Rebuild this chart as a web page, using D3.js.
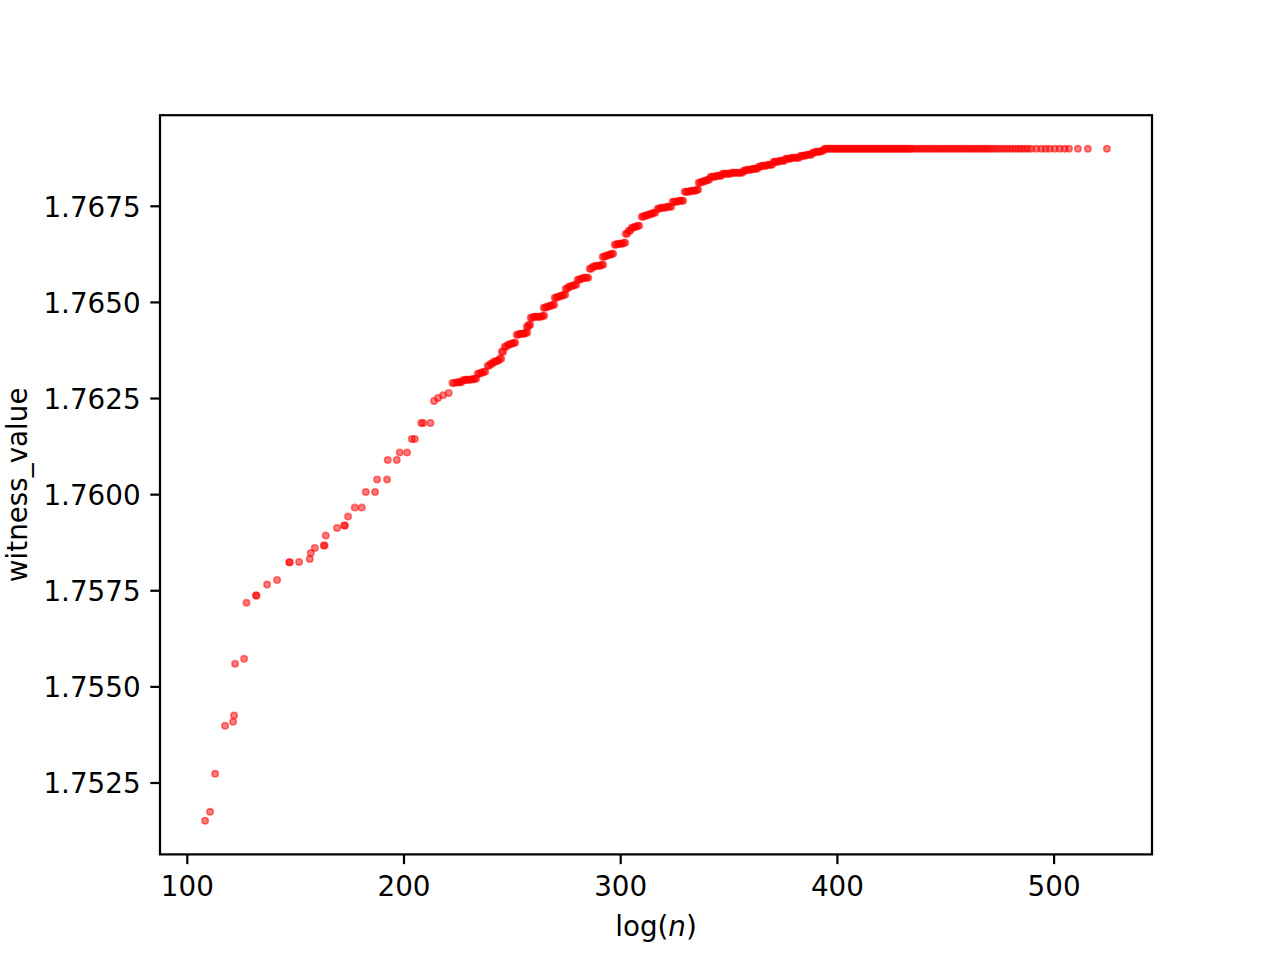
<!DOCTYPE html>
<html><head><meta charset="utf-8">
<script src="https://cdn.jsdelivr.net/npm/d3@7"></script>
<style>body{margin:0;background:#fff} svg text{font-family:"DejaVu Sans",sans-serif;fill:#000}</style>
</head><body><svg id="c" width="1280" height="960"></svg>
<script>
// ---------- data ----------
const xTicks = [100, 200, 300, 400, 500];
const yTicks = [1.7525, 1.7550, 1.7575, 1.7600, 1.7625, 1.7650, 1.7675];
const xLabel = "log(n)";
const yLabel = "witness_value";

const xEarly = [108.44,110.75,113.06,117.67,121.36,121.82,122.28,126.44,127.54,131.90,132.16,137.05,141.66,
  147.20,147.60,151.81,156.75,157.21,159.05,163.21,163.60,164.13,169.34,172.60,173.03,174.42,177.51,180.74,
  182.58,186.87,187.80,192.41,192.73,196.89,198.27,201.64,203.81,205.19,208.19,209.10,212.43,214.09,215.94,
  218.25,220.88,222.60,223.40];
const yEarly = [1.751504,1.751738,1.752726,1.753974,1.754078,1.754242,1.755586,1.755716,1.757172,1.757362,1.757362,1.757648,1.757770,
  1.758228,1.758228,1.758238,1.758316,1.758472,1.758602,1.758662,1.758662,1.758922,1.759122,1.759182,1.759182,1.759416,1.759650,1.759650,
  1.760058,1.760058,1.760378,1.760378,1.760890,1.760890,1.761080,1.761080,1.761436,1.761436,1.761852,1.761852,1.761852,1.762424,1.762502,
  1.762570,1.762632,1.762892,1.762892];

// dense staircase: two interleaved sets of points sharing the same step values
const xBand = [224.57,225.95,227.34,228.72,230.10,231.49,232.87,234.26,235.64,237.02,238.87,240.25,241.64,243.02,244.41,
  245.33,246.71,248.10,249.48,250.86,252.25,253.63,255.02,256.40,256.86,257.79,258.71,260.09,261.48,262.86,264.24,
  264.71,266.09,267.47,268.86,269.78,271.16,272.55,273.93,274.86,276.24,277.62,279.01,280.39,281.78,283.16,284.54,
  285.93,287.31,288.70,290.08,291.46,291.93,293.31,294.69,296.08,297.46,298.85,300.23,301.61,302.54,303.92,305.31,
  306.69,308.07,309.92,311.30,312.69,314.07,315.46,317.30,318.68,320.07,321.45,322.84,324.22,325.60,326.99,328.37,
  329.76,331.14,332.53,333.91,335.29,336.22,337.60,338.98,340.37,341.75,343.14,344.52,345.90,347.29,348.67,350.06,
  351.44,352.83,354.21,355.59,356.98,358.36,359.75,361.13,362.51,363.90,365.28,366.67,368.05,369.43,370.82,372.20,
  373.59,374.97,376.35,377.74,379.12,380.51,381.89,383.28,384.66,386.04,387.43,388.81,390.20,391.58,392.96];
const xBandMid = [225.26,226.64,228.03,229.41,230.79,232.18,233.56,234.95,236.33,237.71,239.56,240.94,242.33,243.71,245.10,
  246.02,247.40,248.79,250.17,251.55,252.94,254.32,255.71,257.09,257.55,258.48,259.40,260.78,262.17,263.55,264.93,
  265.40,266.78,268.16,269.55,270.47,271.85,273.24,274.62,275.55,276.93,278.31,279.70,281.08,282.47,283.85,285.23,
  286.62,288.00,289.39,290.77,292.15,292.62,294.00,295.38,296.77,298.15,299.54,300.92,302.30,303.23,304.61,306.00,
  307.38,308.76,310.61,311.99,313.38,314.76,316.15,317.99,319.37,320.76,322.14,323.53,324.91,326.29,327.68,329.06,
  330.45,331.83,333.22,334.60,335.98,336.91,338.29,339.67,341.06,342.44,343.83,345.21,346.59,347.98,349.36,350.75,
  352.13,353.52,354.90,356.28,357.67,359.05,360.44,361.82,363.20,364.59,365.97,367.36,368.74,370.12,371.51,372.89,
  374.28,375.66,377.04,378.43,379.81,381.20,382.58,383.97,385.35,386.73,388.12,389.50,390.89,392.27,393.65];
const yBand = [1.762911,1.762911,1.762963,1.762976,1.762976,1.762989,1.763002,1.763132,1.763158,1.763184,1.763340,1.763392,1.763444,1.763470,1.763522,
  1.763704,1.763834,1.763886,1.763912,1.763938,1.764146,1.764172,1.764172,1.764198,1.764354,1.764406,1.764588,1.764614,1.764614,1.764614,1.764640,
  1.764848,1.764874,1.764900,1.764926,1.765108,1.765134,1.765160,1.765186,1.765342,1.765394,1.765420,1.765446,1.765576,1.765602,1.765628,1.765628,
  1.765862,1.765914,1.765940,1.765940,1.765966,1.766174,1.766200,1.766226,1.766252,1.766486,1.766512,1.766512,1.766538,1.766772,1.766850,1.766928,
  1.766954,1.766980,1.767214,1.767240,1.767266,1.767292,1.767318,1.767422,1.767448,1.767448,1.767474,1.767474,1.767604,1.767604,1.767630,1.767630,
  1.767864,1.767864,1.767890,1.767890,1.767916,1.768098,1.768124,1.768150,1.768176,1.768254,1.768254,1.768280,1.768280,1.768332,1.768332,1.768332,
  1.768358,1.768358,1.768358,1.768358,1.768410,1.768436,1.768436,1.768462,1.768462,1.768514,1.768540,1.768540,1.768566,1.768566,1.768644,1.768644,
  1.768670,1.768670,1.768722,1.768722,1.768748,1.768748,1.768748,1.768800,1.768800,1.768826,1.768826,1.768878,1.768904,1.768904,1.768930];

const xTail = [394.3,395.0,395.7,396.4,397.1,397.8,398.5,399.2,399.9,400.6,401.3,402.0,402.7,403.4,404.1,404.8,405.5,406.2,
  406.9,407.6,408.3,409.0,409.7,410.4,411.1,411.8,412.5,413.2,413.9,414.6,415.3,416.0,416.7,417.4,418.1,418.8,419.5,420.2,
  420.9,421.6,422.3,423.0,423.7,424.4,425.1,425.8,426.5,427.2,427.9,428.6,429.3,430.0,430.7,431.4,432.1,432.8,433.5,434.2,
  435.1,436.2,437.3,438.4,439.5,440.6,441.7,442.8,443.9,445.0,446.1,447.2,448.3,449.4,450.5,451.6,452.7,453.8,454.9,456.0,
  457.1,458.2,459.3,460.4,461.5,462.6,463.7,464.8,465.9,467.0,468.1,469.2,470.3,471.4,472.7,474.1,475.5,476.9,478.3,479.7,
  481.1,482.5,483.9,485.3,486.7,488.1,489.6,492.0,494.3,496.3,498.2,500.5,502.8,505.1,507.1,511.2,515.8,524.6];
const tailValue = 1.768982; // plateau value

// ---------- assemble ----------
const points = [];
xEarly.forEach((v, i) => points.push({x: v, y: yEarly[i]}));
xBand.forEach((v, i) => points.push({x: v, y: yBand[i]}));
xBandMid.forEach((v, i) => points.push({x: v, y: yBand[i]}));
xTail.forEach(v => points.push({x: v, y: tailValue}));

const L = 160, R = 1152, T = 115.2, B = 854.4;
const fs = 27.78, tick = 9.72, lw = 2.22;

const [xa, xb] = d3.extent(points, d => d.x);
const [ya, yb] = d3.extent(points, d => d.y);
const xs = d3.scaleLinear().domain([xa - 0.05 * (xb - xa), xb + 0.05 * (xb - xa)]).range([L, R]);
const ys = d3.scaleLinear().domain([ya - 0.05 * (yb - ya), yb + 0.05 * (yb - ya)]).range([B, T]);

const svg = d3.select("#c");
svg.append("rect").attr("width", 1280).attr("height", 960).attr("fill", "#fff");

svg.append("g").selectAll("circle").data(points).join("circle")
  .attr("cx", d => xs(d.x)).attr("cy", d => ys(d.y)).attr("r", 3.2)
  .attr("fill", "#ff0000").attr("fill-opacity", 0.5)
  .attr("stroke", "#ff0000").attr("stroke-opacity", 0.5).attr("stroke-width", 1.6);

// axes
const gx = svg.append("g").attr("transform", `translate(0,${B})`)
  .call(d3.axisBottom(xs).tickValues(xTicks).tickSize(tick).tickPadding(tick).tickFormat(d3.format("d")));
const gy = svg.append("g").attr("transform", `translate(${L},0)`)
  .call(d3.axisLeft(ys).tickValues(yTicks).tickSize(tick).tickPadding(tick).tickFormat(d3.format(".4f")));
[gx, gy].forEach(g => {
  g.select(".domain").remove();
  g.selectAll(".tick line").attr("stroke", "#000").attr("stroke-width", lw);
  g.selectAll(".tick text").attr("font-size", fs).attr("font-family", "DejaVu Sans").attr("fill", "#000");
});
gx.selectAll(".tick text").attr("dy", "0.8em");
gy.selectAll(".tick text").attr("dy", "0.37em");

// frame
svg.append("rect").attr("x", L).attr("y", T).attr("width", R - L).attr("height", B - T)
  .attr("fill", "none").attr("stroke", "#000").attr("stroke-width", lw);

// labels
const xl = svg.append("text").attr("x", (L + R) / 2).attr("y", 936).attr("text-anchor", "middle")
  .attr("font-size", fs);
xl.append("tspan").text("log(");
xl.append("tspan").attr("font-style", "italic").text("n");
xl.append("tspan").text(")");

svg.append("text").attr("transform", `translate(27,${(T + B) / 2}) rotate(-90)`)
  .attr("text-anchor", "middle").attr("font-size", fs).text(yLabel);
</script></body></html>
